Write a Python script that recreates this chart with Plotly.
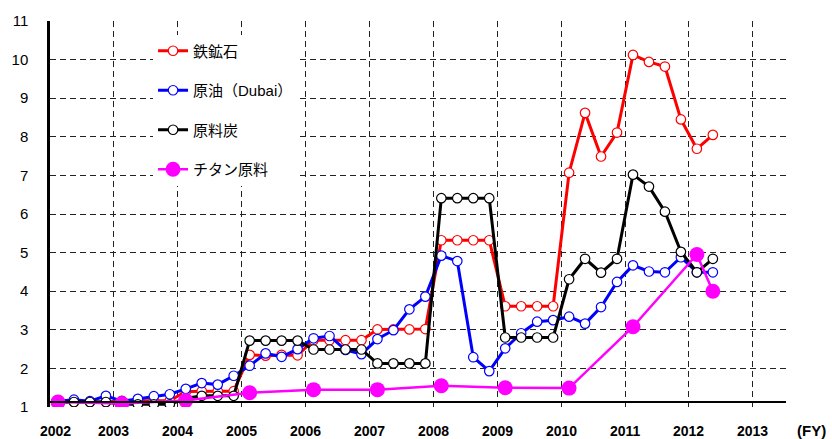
import plotly.graph_objects as go

# Quarterly periods: FY2002 Q1 ... FY2012 Q2
years = list(range(2002, 2013))
quarters = [(y, q) for y in years for q in range(1, 5)][:42]

iron_ore = [1.13, 1.13, 1.13, 1.13,
            1.16, 1.16, 1.16, 1.16,
            1.40, 1.41, 1.41, 1.41,
            2.35, 2.33, 2.35, 2.34,
            2.73, 2.73, 2.73, 2.73,
            3.01, 3.01, 3.01, 3.02,
            5.32, 5.32, 5.32, 5.32,
            3.61, 3.61, 3.61, 3.61,
            7.07, 8.62, 7.49, 8.11,
            10.12, 9.94, 9.82, 8.45,
            7.69, 8.05]
crude_dubai = [1.15, 1.19, 1.15, 1.29,
               1.15, 1.21, 1.28, 1.33,
               1.47, 1.62, 1.58, 1.81,
               2.07, 2.39, 2.30, 2.50,
               2.78, 2.84, 2.48, 2.37,
               2.76, 2.99, 3.53, 3.86,
               4.92, 4.78, 2.29, 1.93,
               2.52, 2.91, 3.21, 3.25,
               3.34, 3.16, 3.59, 4.24,
               4.67, 4.51, 4.49, 4.88,
               4.49, 4.49]
coking_coal = [1.13, 1.13, 1.13, 1.13,
               1.07, 1.07, 1.07, 1.07,
               1.22, 1.29, 1.29, 1.29,
               2.72, 2.72, 2.72, 2.72,
               2.49, 2.49, 2.49, 2.49,
               2.13, 2.13, 2.13, 2.13,
               6.41, 6.41, 6.41, 6.41,
               2.80, 2.80, 2.80, 2.80,
               4.31, 4.84, 4.48, 4.84,
               7.02, 6.71, 6.06, 5.02,
               4.49, 4.84]
# Titanium feedstock: annual (Q1) values, then FY2012 Q1 and Q2
ti_periods = [(y, 1) for y in range(2002, 2013)] + [(2012, 2)]
ti_feed = [1.13, 1.09, 1.17, 1.37, 1.45, 1.45, 1.55, 1.50, 1.49, 3.08, 4.95, 4.00]

x_ticks = list(range(2002, 2014))
x_ticktext = [str(y) for y in x_ticks]
y_ticks = list(range(1, 12))
base_level = 1.13

names = ["鉄鉱石", "原油（Dubai）", "原料炭", "チタン原料"]
colors = ["#ff0000", "#0000ff", "#000000", "#ff00ff"]


def qx(p):
    y, q = p
    return y + (q - 0.5) / 4.0


xq = [qx(p) for p in quarters]
fig = go.Figure()
for i, (vals, nm, col) in enumerate(zip([iron_ore, crude_dubai, coking_coal], names, colors)):
    fig.add_trace(go.Scatter(
        x=xq, y=vals, name=nm, mode="lines+markers", legendgroup=str(i),
        line=dict(color=col, width=3),
        marker=dict(symbol="circle", size=9.5, color="white", line=dict(color=col, width=1.2)),
    ))
fig.add_trace(go.Scatter(
    x=[qx(p) for p in ti_periods], y=ti_feed, name=names[3], mode="lines+markers",
    legendgroup="3",
    line=dict(color=colors[3], width=2.5),
    marker=dict(symbol="circle", size=15, color=colors[3]),
))

fig.add_shape(type="line", xref="paper", x0=0, x1=1, yref="y", y0=base_level, y1=base_level,
              line=dict(color="black", width=2), layer="above")

for t, lbl in zip(x_ticks, x_ticktext):
    fig.add_annotation(x=t + (0.09 if t == x_ticks[0] else 0), y=0, xref="x", yref="paper",
                       yanchor="top", yshift=-14, text="<b>" + lbl + "</b>", showarrow=False,
                       font=dict(size=14, family="Liberation Sans, Arial", color="black"))
fig.add_annotation(x=1.0, y=0, xref="paper", yref="paper", xanchor="center", yanchor="top",
                   xshift=25, yshift=-13, text="<b>(FY)</b>", showarrow=False,
                   font=dict(size=15, family="Liberation Sans, Arial", color="black"))

fig.update_layout(
    width=832, height=439,
    margin=dict(l=48, r=46, t=18, b=32),
    paper_bgcolor="white", plot_bgcolor="white",
    showlegend=True,
    legend=dict(x=0.14, y=0.965, xanchor="left", yanchor="top", bgcolor="white",
                font=dict(size=15, family="Liberation Sans, Noto Sans CJK JP", color="black"),
                tracegroupgap=17, itemwidth=30),
    font=dict(family="Liberation Sans, Arial", color="black"),
)
fig.update_xaxes(range=[2002, 2013.52], tickvals=x_ticks, showticklabels=False,
                 showgrid=True, gridcolor="#222", gridwidth=1, griddash="6px,4px",
                 zeroline=False, showline=False, ticks="")
fig.update_yaxes(range=[1, 11], tickvals=y_ticks, showgrid=True, gridcolor="#222",
                 gridwidth=1, griddash="6px,4px", zeroline=False,
                 showline=True, linecolor="black", linewidth=2.5,
                 ticks="outside", ticklen=16, tickcolor="rgba(0,0,0,0)",
                 tickfont=dict(size=15, family="Liberation Sans, Arial", color="black"))

fig.write_html("out.html", config={"displayModeBar": False},
               post_script="document.body.style.margin='0';")
